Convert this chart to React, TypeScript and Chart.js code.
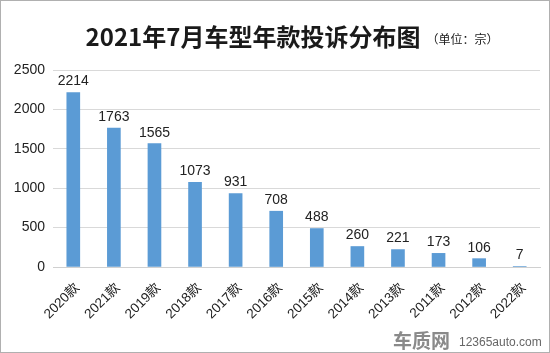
import React, { useEffect, useRef } from "react";
import { Chart, registerables } from "chart.js";

Chart.register(...registerables);

const categories = ["2020款", "2021款", "2019款", "2018款", "2017款", "2016款", "2015款", "2014款", "2013款", "2011款", "2012款", "2022款"];
const complaints = [2214, 1763, 1565, 1073, 931, 708, 488, 260, 221, 173, 106, 7];
const titleText = "2021年7月车型年款投诉分布图";
const unitText = "（单位：宗）";
const watermarkLogo = "车质网";
const watermarkSite = "12365auto.com";

const W = 550;
const H = 353;

const decorPlugin = {
  id: "decor",
  beforeDraw(chart: any) {
    const ctx = chart.ctx;
    ctx.save();
    ctx.fillStyle = "#ffffff";
    ctx.fillRect(0, 0, chart.width, chart.height);
    ctx.restore();
  },
  afterDraw(chart: any) {
    const ctx = chart.ctx;
    ctx.save();
    // title
    ctx.fillStyle = "#1a1a1a";
    ctx.textBaseline = "alphabetic";
    ctx.textAlign = "left";
    ctx.font = "bold 24px 'Noto Sans CJK SC', 'Liberation Sans', sans-serif";
    const tw = ctx.measureText(titleText).width;
    const tx = 253 - tw / 2;
    ctx.fillText(titleText, tx, 46);
    ctx.font = "12px 'Noto Sans CJK SC', sans-serif";
    ctx.fillText(unitText, tx + tw + 6, 44);

    // value labels
    const meta = chart.getDatasetMeta(0);
    ctx.font = "14px 'Liberation Sans', Arial, sans-serif";
    ctx.fillStyle = "#222";
    ctx.textAlign = "center";
    ctx.textBaseline = "bottom";
    meta.data.forEach((bar: any, i: number) => {
      ctx.fillText(String(complaints[i]), bar.x, bar.y - 4);
    });

    // watermark
    ctx.fillStyle = "#8a8a8a";
    ctx.textAlign = "left";
    ctx.textBaseline = "alphabetic";
    ctx.font = "bold 19px 'Noto Sans CJK SC', sans-serif";
    ctx.fillText(watermarkLogo, 393, 348);
    ctx.fillStyle = "#666";
    ctx.font = "12px 'Liberation Sans', Arial, sans-serif";
    ctx.fillText(watermarkSite, 459, 346);

    // border
    ctx.strokeStyle = "#b0b0b0";
    ctx.lineWidth = 1;
    ctx.strokeRect(0.5, 0.5, chart.width - 1, chart.height - 1);
    ctx.restore();
  },
};

export default function App() {
  const ref = useRef<HTMLCanvasElement | null>(null);

  useEffect(() => {
    if (!ref.current) return;
    const chart = new Chart(ref.current, {
      type: "bar",
      data: {
        labels: categories,
        datasets: [
          {
            data: complaints,
            backgroundColor: "#5b9bd5",
            barThickness: 13,
          },
        ],
      },
      options: {
        animation: false,
        responsive: false,
        maintainAspectRatio: false,
        layout: { padding: { top: 70, right: 10, left: 0, bottom: 0 } },
        plugins: {
          legend: { display: false },
          tooltip: { enabled: false },
          title: { display: false },
        },
        scales: {
          x: {
            grid: { display: false, drawTicks: false },
            border: { color: "#d0d0d0" },
            ticks: {
              minRotation: 45,
              maxRotation: 45,
              padding: 13,
              labelOffset: 4,
              color: "#222",
              font: { size: 13.5, family: "'Liberation Sans', 'Noto Sans CJK SC', sans-serif" },
            },
            afterFit(scale: any) {
              scale.height = H - 267;
            },
          },
          y: {
            min: 0,
            max: 2500,
            grid: { color: "#d9d9d9", drawTicks: false },
            border: { display: false },
            ticks: {
              stepSize: 500,
              padding: 8,
              color: "#222",
              font: { size: 14, family: "'Liberation Sans', Arial, sans-serif" },
              callback: (v: any) => String(v),
            },
            afterFit(scale: any) {
              scale.width = 53;
            },
          },
        },
      },
      plugins: [decorPlugin],
    });
    return () => chart.destroy();
  }, []);

  return (
    <div style={{ position: "fixed", left: 0, top: 0, width: W, height: H }}>
      <canvas ref={ref} width={W} height={H} style={{ width: W, height: H, display: "block" }} />
    </div>
  );
}
